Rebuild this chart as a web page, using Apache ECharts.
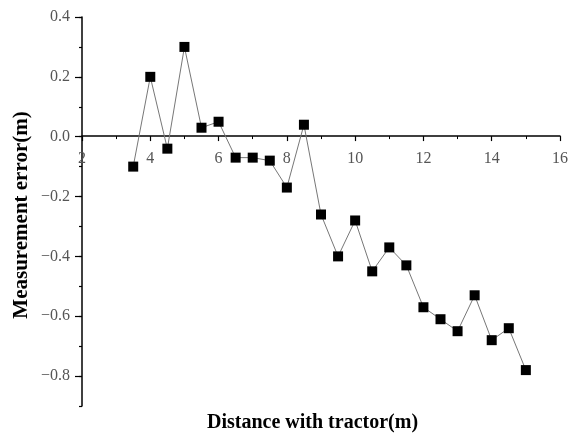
<!DOCTYPE html>
<html>
<head>
<meta charset="utf-8">
<script src="https://cdn.jsdelivr.net/npm/echarts@6/dist/echarts.min.js"></script>
<style>
html,body{margin:0;padding:0;background:#fff;}
#main{width:571px;height:435px;}
</style>
</head>
<body>
<div id="main"></div>
<script>
// Data
const distance = [3.5, 4, 4.5, 5, 5.5, 6, 6.5, 7, 7.5, 8, 8.5, 9, 9.5, 10, 10.5, 11, 11.5, 12, 12.5, 13, 13.5, 14, 14.5, 15];
const errorVals = [-0.10, 0.20, -0.04, 0.30, 0.03, 0.05, -0.07, -0.07, -0.08, -0.17, 0.04, -0.26, -0.40, -0.28, -0.45, -0.37, -0.43, -0.57, -0.61, -0.65, -0.53, -0.68, -0.64, -0.78];
const yTickLabels = [-0.8, -0.6, -0.4, -0.2, 0.0, 0.2, 0.4];
const xName = 'Distance with tractor(m)';
const yName = 'Measurement error(m)';

const chart = echarts.init(document.getElementById('main'), null, {renderer: 'canvas'});
const serif = '"Liberation Serif", "DejaVu Serif", serif';
const labelColor = '#555';
const gridBottom = 29;

const option = {
  backgroundColor: '#fff',
  animation: false,
  grid: {left: 82, right: 8, top: 17, bottom: gridBottom, containLabel: false},
  xAxis: {
    type: 'value',
    position: 'bottom',
    offset: 0,
    min: 2, max: 16, interval: 2,
    axisLine: {show: true, onZero: false, lineStyle: {color: '#000', width: 1.5}},
    axisTick: {show: true, inside: false, length: 5, lineStyle: {color: '#000', width: 1.2}},
    minorTick: {show: true, splitNumber: 2, length: 3, lineStyle: {color: '#000', width: 1}},
    splitLine: {show: false},
    axisLabel: {show: true, margin: 15, color: labelColor, fontFamily: serif, fontSize: 16, showMinLabel: true, showMaxLabel: true}
  },
  yAxis: [{
    type: 'value',
    min: -0.9, max: 0.4, interval: 0.1,
    axisLine: {show: true, onZero: false, lineStyle: {color: '#000', width: 1.5}},
    axisTick: {show: true, length: 3, lineStyle: {color: '#000', width: 1.2}},
    splitLine: {show: false},
    axisLabel: {
      show: true, margin: 12, color: labelColor, fontFamily: serif, fontSize: 16,
      customValues: yTickLabels,
      formatter: v => (v < -1e-9 ? '\u2212' : '') + Math.abs(v).toFixed(1)
    }
  }, {
    type: 'value',
    min: -0.9, max: 0.4,
    position: 'left',
    axisLine: {show: false, onZero: false},
    axisTick: {show: true, length: 7, customValues: yTickLabels, lineStyle: {color: '#000', width: 1.2}},
    axisLabel: {show: false},
    splitLine: {show: false}
  }],
  graphic: [{
    type: 'text',
    left: 207, top: 413,
    style: {text: xName, fill: '#000', font: 'bold 20px ' + serif}
  }, {
    type: 'text',
    x: 22, y: 215,
    rotation: Math.PI / 2,
    style: {text: yName, fill: '#000', font: 'bold 21px ' + serif, align: 'center', verticalAlign: 'middle'}
  }],
  series: [{
    type: 'line',
    xAxisIndex: 0, yAxisIndex: 0,
    data: distance.map((d, i) => [d, errorVals[i]]),
    symbol: 'rect',
    symbolSize: 10,
    itemStyle: {color: '#000'},
    lineStyle: {color: '#777', width: 1},
    z: 5
  }]
};
chart.setOption(option);
// Move the x axis (line, ticks, labels) onto y = 0 using the y scale
const zeroY = chart.convertToPixel({yAxisIndex: 0}, 0);
const bottomY = chart.getHeight() - gridBottom;
chart.setOption({xAxis: {offset: zeroY - bottomY}});
</script>
</body>
</html>
